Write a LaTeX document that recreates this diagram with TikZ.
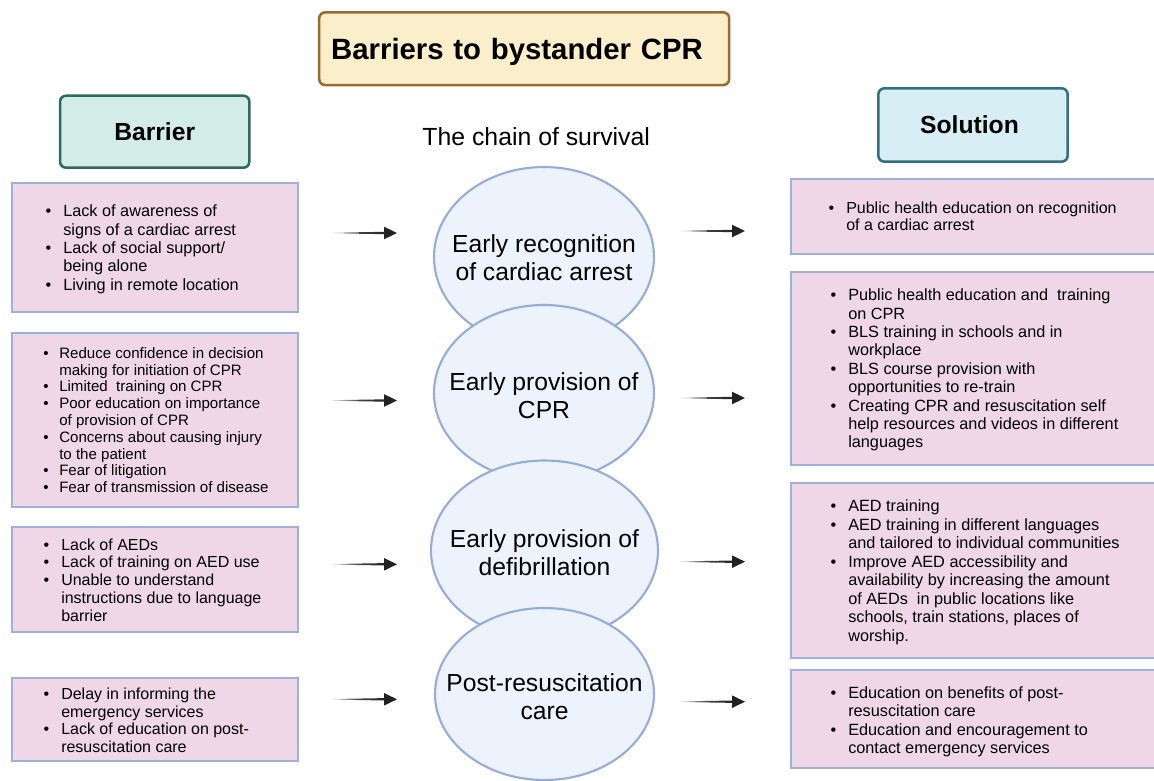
\documentclass[tikz,border=0pt]{standalone}
\usepackage{fontspec}
\setmainfont{Liberation Sans}
\usetikzlibrary{shapes.geometric,arrows.meta,calc}
\definecolor{pinkfill}{HTML}{EFD7E8}
\definecolor{pinkdraw}{HTML}{9DB1DA}
\definecolor{ellfill}{HTML}{ECF3FC}
\definecolor{elldraw}{HTML}{97ADD8}
\definecolor{titlefill}{HTML}{FBEECB}
\definecolor{titledraw}{HTML}{9A6A2E}
\definecolor{barfill}{HTML}{D4ECE8}
\definecolor{bardraw}{HTML}{2C6A5D}
\definecolor{solfill}{HTML}{D7EEF5}
\definecolor{soldraw}{HTML}{31707F}
\definecolor{arrowcol}{HTML}{222222}
\newcommand{\bitem}{\llap{\textbullet\hspace{9pt}}}
\newcommand{\bitemS}{\llap{\textbullet\hspace{8pt}}}
\begin{document}
\begin{tikzpicture}[x=0.75pt,y=-0.75pt,
  pinkbox/.style={draw=pinkdraw, fill=pinkfill, line width=1.6pt},
  listtext/.style={anchor=base west, inner sep=0pt, font=\fontsize{12.2}{13.8}\selectfont},
  ellshape/.style={ellipse, draw=elldraw, fill=ellfill, line width=1.6pt, inner sep=0pt},
  elltext/.style={align=center, inner sep=0pt, text depth=0pt, font=\fontsize{18.5}{21}\selectfont},
  hdr/.style={rounded corners=4.5pt, line width=1.9pt, font=\bfseries\fontsize{18.5}{21}\selectfont, inner sep=0pt}
]
\useasboundingbox (0,0) rectangle (1154,781);

% Title
\node[hdr, fill=titlefill, draw=titledraw, text width=289.5pt, inner xsep=9pt, align=left,
      minimum height=54.5pt, text depth=0pt, font=\bfseries\fontsize{22}{26}\selectfont]
      (title) at (524.2,48.7) {Barriers to bystander CPR};

% Headers
\node[hdr, fill=barfill, draw=bardraw, minimum width=142pt, minimum height=54pt] (barrier) at (154.7,131.7) {Barrier};
\node[hdr, fill=solfill, draw=soldraw, minimum width=142pt, minimum height=55pt] (solution) at (973,125) {};
\node[inner sep=0pt, font=\bfseries\fontsize{18.5}{21}\selectfont] (soltext) at (969.5,125) {Solution};

\node[anchor=base, inner sep=0pt, font=\fontsize{18.6}{21}\selectfont] (chain) at (536.2,145.7) {The chain of survival};

% Left boxes
\path[pinkbox] (11.7,182.7) rectangle (297.7,312.3);
\path[pinkbox] (11.7,333.3) rectangle (297.7,506.7);
\path[pinkbox] (11.7,527.3) rectangle (297.7,631.7);
\path[pinkbox] (11.7,677.7) rectangle (297.7,761);

\node[listtext] (L1) at (63,216.7) {\begin{tabular}[t]{@{}l@{}}
\bitem Lack of awareness of\\
signs of a cardiac arrest\\
\bitem Lack of social support/\\
being alone\\
\bitem Living in remote location
\end{tabular}};

\node[listtext, font=\fontsize{11.3}{12.6}\selectfont] (L2) at (59,358.3) {\begin{tabular}[t]{@{}l@{}}
\bitemS Reduce confidence in decision\\
making for initiation of CPR\\
\bitemS Limited\ \ training on CPR\\
\bitemS Poor education on importance\\
of provision of CPR\\
\bitemS Concerns about causing injury\\
to the patient\\
\bitemS Fear of litigation\\
\bitemS Fear of transmission of disease
\end{tabular}};

\node[listtext, font=\fontsize{12}{13.4}\selectfont] (L3) at (61,550) {\begin{tabular}[t]{@{}l@{}}
\bitem Lack of AEDs\\
\bitem Lack of training on AED use\\
\bitem Unable to understand\\
instructions due to language\\
barrier
\end{tabular}};

\node[listtext, font=\fontsize{12}{13.3}\selectfont] (L4) at (61,699.3) {\begin{tabular}[t]{@{}l@{}}
\bitem Delay in informing the\\
emergency services\\
\bitem Lack of education on post-\\
resuscitation care
\end{tabular}};

% Right boxes
\path[pinkbox] (791,179.3) rectangle (1158,254);
\path[pinkbox] (791,272) rectangle (1158,465);
\path[pinkbox] (791,482.7) rectangle (1158,657.7);
\path[pinkbox] (791,670) rectangle (1158,768.3);

\node[listtext, font=\fontsize{12}{13.2}\selectfont] (R1) at (846,213.3) {\begin{tabular}[t]{@{}l@{}}
\bitem Public health education on recognition\\
of a cardiac arrest
\end{tabular}};

\node[listtext] (R2) at (848,300.7) {\begin{tabular}[t]{@{}l@{}}
\bitem Public health education and\ \ training\\
on CPR\\
\bitem BLS training in schools and in\\
workplace\\
\bitem BLS course provision with\\
opportunities to re-train\\
\bitem Creating CPR and resuscitation self\\
help resources and videos in different\\
languages
\end{tabular}};

\node[listtext, font=\fontsize{12.2}{13.9}\selectfont] (R3) at (848,511.7) {\begin{tabular}[t]{@{}l@{}}
\bitem AED training\\
\bitem AED training in different languages\\
and tailored to individual communities\\
\bitem Improve AED accessibility and\\
availability by increasing the amount\\
of AEDs\ \ in public locations like\\
schools, train stations, places of\\
worship.
\end{tabular}};

\node[listtext] (R4) at (848,698.3) {\begin{tabular}[t]{@{}l@{}}
\bitem Education on benefits of post-\\
resuscitation care\\
\bitem Education and encouragement to\\
contact emergency services
\end{tabular}};

% Ellipses (chain of survival)
\node[ellshape, minimum width=165pt, minimum height=135pt] (E1) at (544,257) {};
\node[elltext] (E1t) at ($(E1.center)+(0,0.5)$) {Early recognition\\of cardiac arrest};
\node[ellshape, minimum width=165pt, minimum height=132pt] (E2) at (544,393) {};
\node[elltext] (E2t) at ($(E2.center)+(0,3)$) {Early provision of\\CPR};
\node[ellshape, minimum width=170.25pt, minimum height=135pt] (E3) at (544.5,550.5) {};
\node[elltext] (E3t) at ($(E3.center)+(0,2)$) {Early provision of\\defibrillation};
\node[ellshape, minimum width=164.25pt, minimum height=129pt] (E4) at (544.5,694) {};
\node[elltext] (E4t) at ($(E4.center)+(0,3)$) {Post-resuscitation\\care};

% Arrows
\coordinate (a1s) at (332,233); \coordinate (a1e) at (397,233);
\coordinate (a2s) at (332,400.5); \coordinate (a2e) at (397,400.5);
\coordinate (a3s) at (332,564.3); \coordinate (a3e) at (397,564.3);
\coordinate (a4s) at (332,699.3); \coordinate (a4e) at (397,699.3);
\coordinate (b1s) at (680,231); \coordinate (b1e) at (745,231);
\coordinate (b2s) at (680,398); \coordinate (b2e) at (745,398);
\coordinate (b3s) at (680,561.7); \coordinate (b3e) at (745,561.7);
\coordinate (b4s) at (680,701.7); \coordinate (b4e) at (745,701.7);
\foreach \s/\e in {a1s/a1e,a2s/a2e,a3s/a3e,a4s/a4e,b1s/b1e,b2s/b2e,b3s/b3e,b4s/b4e}{
  \shade[left color=arrowcol!8, right color=arrowcol, middle color=arrowcol!85]
    ($(\s)+(0,-0.3)$) -- ($(\e)+(-11,-1.2)$) -- ($(\e)+(-11,1.2)$) -- ($(\s)+(0,0.3)$) -- cycle;
  \fill[arrowcol] (\e) -- ($(\e)+(-13,-6.3)$) -- ($(\e)+(-13,6.3)$) -- cycle;
}
\end{tikzpicture}
\end{document}
